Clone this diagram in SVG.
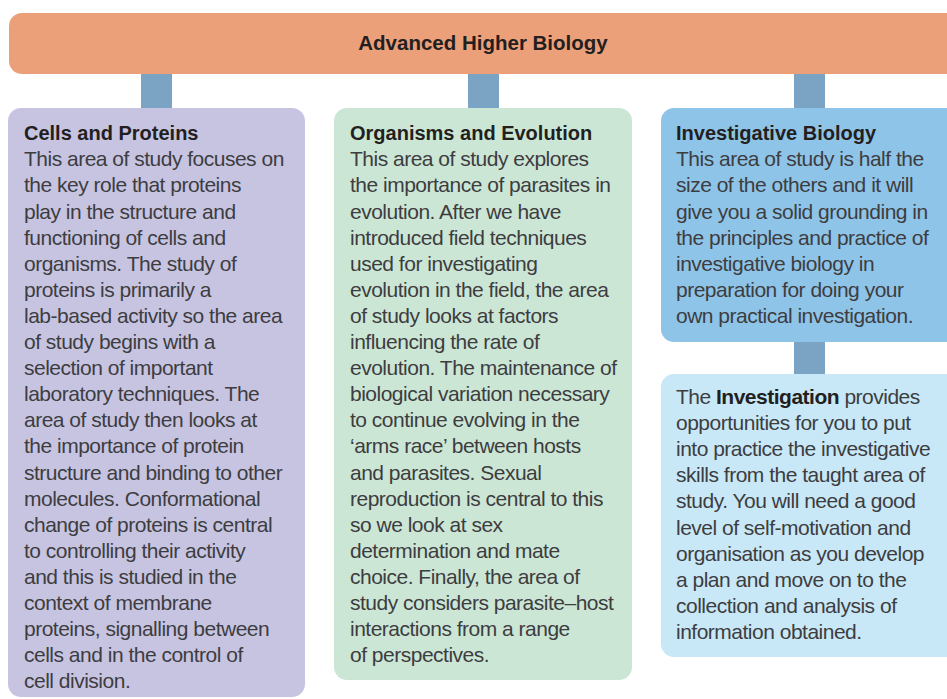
<svg xmlns="http://www.w3.org/2000/svg" width="947" height="699" viewBox="0 0 947 699">
  <style>
    .link { fill: #7BA4C4; }
    .head { font-family: "Liberation Sans", Arial, sans-serif; font-weight: bold; font-size: 20.5px; fill: #231F20; }
    .title { font-family: "Liberation Sans", Arial, sans-serif; font-weight: bold; font-size: 20px; fill: #231F20; }
    .body { font-family: "Liberation Sans", Arial, sans-serif; font-size: 21px; letter-spacing: -0.5px; fill: #3D3D3F; }
    .body tspan.b { font-weight: bold; fill: #231F20; }
  </style>
  <rect width="947" height="699" fill="#FFFFFF"/>

  <!-- connectors -->
  <g id="connectors">
    <rect class="link" x="141" y="72" width="31" height="38"/>
    <rect class="link" x="468" y="72" width="31" height="38"/>
    <rect class="link" x="794" y="72" width="31" height="38"/>
    <rect class="link" x="794" y="340" width="31" height="36"/>
  </g>

  <!-- header bar -->
  <g id="header">
    <rect x="9" y="13" width="960" height="61" rx="13" fill="#ECA07A"/>
    <text class="head" x="483" y="50" text-anchor="middle">Advanced Higher Biology</text>
  </g>

  <!-- Cells and Proteins -->
  <g id="cells-proteins">
    <rect x="8" y="108" width="297" height="589" rx="13" fill="#C7C4E2"/>
    <text class="title" x="24" y="140">Cells and Proteins</text>
    <text class="body">
      <tspan x="24" y="166.3">This area of study focuses on</tspan>
      <tspan x="24" y="192.4">the key role that proteins</tspan>
      <tspan x="24" y="218.5">play in the structure and</tspan>
      <tspan x="24" y="244.6">functioning of cells and</tspan>
      <tspan x="24" y="270.7">organisms. The study of</tspan>
      <tspan x="24" y="296.8">proteins is primarily a</tspan>
      <tspan x="24" y="322.9">lab-based activity so the area</tspan>
      <tspan x="24" y="349">of study begins with a</tspan>
      <tspan x="24" y="375.1">selection of important</tspan>
      <tspan x="24" y="401.2">laboratory techniques. The</tspan>
      <tspan x="24" y="427.3">area of study then looks at</tspan>
      <tspan x="24" y="453.4">the importance of protein</tspan>
      <tspan x="24" y="479.5">structure and binding to other</tspan>
      <tspan x="24" y="505.6">molecules. Conformational</tspan>
      <tspan x="24" y="531.7">change of proteins is central</tspan>
      <tspan x="24" y="557.8">to controlling their activity</tspan>
      <tspan x="24" y="583.9">and this is studied in the</tspan>
      <tspan x="24" y="610">context of membrane</tspan>
      <tspan x="24" y="636.1">proteins, signalling between</tspan>
      <tspan x="24" y="662.2">cells and in the control of</tspan>
      <tspan x="24" y="688.3">cell division.</tspan>
    </text>
  </g>

  <!-- Organisms and Evolution -->
  <g id="organisms-evolution">
    <rect x="334" y="108" width="298" height="572" rx="13" fill="#CCE6D6"/>
    <text class="title" x="350" y="140">Organisms and Evolution</text>
    <text class="body">
      <tspan x="350" y="166.3">This area of study explores</tspan>
      <tspan x="350" y="192.4">the importance of parasites in</tspan>
      <tspan x="350" y="218.5">evolution. After we have</tspan>
      <tspan x="350" y="244.6">introduced field techniques</tspan>
      <tspan x="350" y="270.7">used for investigating</tspan>
      <tspan x="350" y="296.8">evolution in the field, the area</tspan>
      <tspan x="350" y="322.9">of study looks at factors</tspan>
      <tspan x="350" y="349">influencing the rate of</tspan>
      <tspan x="350" y="375.1">evolution. The maintenance of</tspan>
      <tspan x="350" y="401.2">biological variation necessary</tspan>
      <tspan x="350" y="427.3">to continue evolving in the</tspan>
      <tspan x="350" y="453.4">‘arms race’ between hosts</tspan>
      <tspan x="350" y="479.5">and parasites. Sexual</tspan>
      <tspan x="350" y="505.6">reproduction is central to this</tspan>
      <tspan x="350" y="531.7">so we look at sex</tspan>
      <tspan x="350" y="557.8">determination and mate</tspan>
      <tspan x="350" y="583.9">choice. Finally, the area of</tspan>
      <tspan x="350" y="610">study considers parasite–host</tspan>
      <tspan x="350" y="636.1">interactions from a range</tspan>
      <tspan x="350" y="662.2">of perspectives.</tspan>
    </text>
  </g>

  <!-- Investigative Biology -->
  <g id="investigative-biology">
    <rect x="661" y="108" width="300" height="234" rx="13" fill="#8FC4E9"/>
    <text class="title" x="676" y="140">Investigative Biology</text>
    <text class="body">
      <tspan x="676" y="166.3">This area of study is half the</tspan>
      <tspan x="676" y="192.4">size of the others and it will</tspan>
      <tspan x="676" y="218.5">give you a solid grounding in</tspan>
      <tspan x="676" y="244.6">the principles and practice of</tspan>
      <tspan x="676" y="270.7">investigative biology in</tspan>
      <tspan x="676" y="296.8">preparation for doing your</tspan>
      <tspan x="676" y="322.9">own practical investigation.</tspan>
    </text>
  </g>

  <!-- The Investigation -->
  <g id="investigation">
    <rect x="661" y="374" width="300" height="283" rx="13" fill="#C8E8F8"/>
    <text class="body">
      <tspan x="676" y="404">The <tspan class="b">Investigation</tspan> provides</tspan>
      <tspan x="676" y="430.1">opportunities for you to put</tspan>
      <tspan x="676" y="456.2">into practice the investigative</tspan>
      <tspan x="676" y="482.3">skills from the taught area of</tspan>
      <tspan x="676" y="508.4">study. You will need a good</tspan>
      <tspan x="676" y="534.5">level of self-motivation and</tspan>
      <tspan x="676" y="560.6">organisation as you develop</tspan>
      <tspan x="676" y="586.7">a plan and move on to the</tspan>
      <tspan x="676" y="612.8">collection and analysis of</tspan>
      <tspan x="676" y="638.9">information obtained.</tspan>
    </text>
  </g>
</svg>
